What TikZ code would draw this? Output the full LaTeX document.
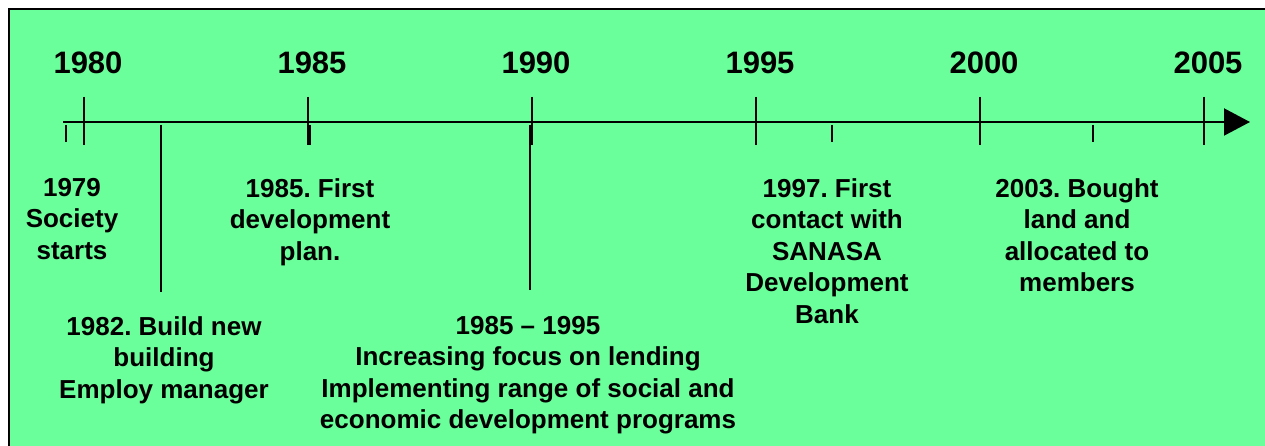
\documentclass[tikz,border=0pt]{standalone}
\usepackage{fontspec}
\setmainfont{Liberation Sans}
\usetikzlibrary{arrows.meta}
\definecolor{panelgreen}{RGB}{106,255,155}
\frenchspacing

\begin{document}
\begin{tikzpicture}[x=1pt,y=-1pt,
  yearlabel/.style={font=\bfseries\fontsize{31}{37}\selectfont, inner sep=0pt},
  event/.style={font=\bfseries\fontsize{26}{31.5}\selectfont, align=center, inner sep=0pt, anchor=north},
  axisline/.style={line width=2pt, -{Triangle[length=26pt,width=27pt]}},
  ticks/.style={line width=2pt}]

  \useasboundingbox (0,0) rectangle (1265,446);

  % background panel with its left and top border
  \fill[panelgreen] (8.5,9.5) rectangle (1270,450);
  \draw[line width=2pt] (8.5,450) -- (8.5,9.5) -- (1270,9.5);

  % time axis
  \coordinate (start) at (63,122);
  \coordinate (end) at (1250,122);
  \draw[axisline] (start) -- (end);

  % year labels
  \node[yearlabel] (y1980) at (88,63) {1980};
  \node[yearlabel] (y1985) at (312,63) {1985};
  \node[yearlabel] (y1990) at (536,63) {1990};
  \node[yearlabel] (y1995) at (760,63) {1995};
  \node[yearlabel] (y2000) at (984,63) {2000};
  \node[yearlabel] (y2005) at (1208,63) {2005};

  % major ticks
  \foreach \x/\n in {84/a,308/b,532/c,756/d,980/e,1204/f}{
    \coordinate (t\n top) at (\x,97);
    \coordinate (t\n bot) at (\x,145);
    \draw[ticks] (t\n top) -- (t\n bot);
  }

  % event markers below the axis
  \coordinate (m1979a) at (66,125);  \coordinate (m1979b) at (66,142);
  \coordinate (m1985a) at (309,125); \coordinate (m1985b) at (309,145);
  \coordinate (m1997a) at (832,125); \coordinate (m1997b) at (832,142);
  \coordinate (m2003a) at (1093,125);\coordinate (m2003b) at (1093,142);
  \draw[ticks] (m1979a) -- (m1979b);
  \draw[line width=3pt] (m1985a) -- (m1985b);
  \draw[ticks] (m1997a) -- (m1997b);
  \draw[ticks] (m2003a) -- (m2003b);

  % events
  \node[event] (e1979) at (72,178) {1979\\Society\\starts};
  \node[event] (e1985) at (310,178) {1985. First\\development\\plan.};
  \node[event] (e1997) at (827,178) {1997. First\\contact with\\SANASA\\Development\\Bank};
  \node[event] (e2003) at (1077,178) {2003. Bought\\land and\\allocated to\\members};
  \node[event] (e1982) at (164,316) {1982. Build new\\building\\Employ manager};
  \node[event] (e8595) at (528,316) {1985 – 1995\\Increasing focus on lending\\Implementing range of social and\\economic development programs};

  % long markers reaching down to the lower events
  \coordinate (m1982a) at (161,125);
  \coordinate (m1990a) at (530,125);
  \draw[ticks] (m1982a) -- (m1982a |- 0,292);
  \draw[ticks] (m1990a) -- (m1990a |- 0,290);
\end{tikzpicture}
\end{document}
